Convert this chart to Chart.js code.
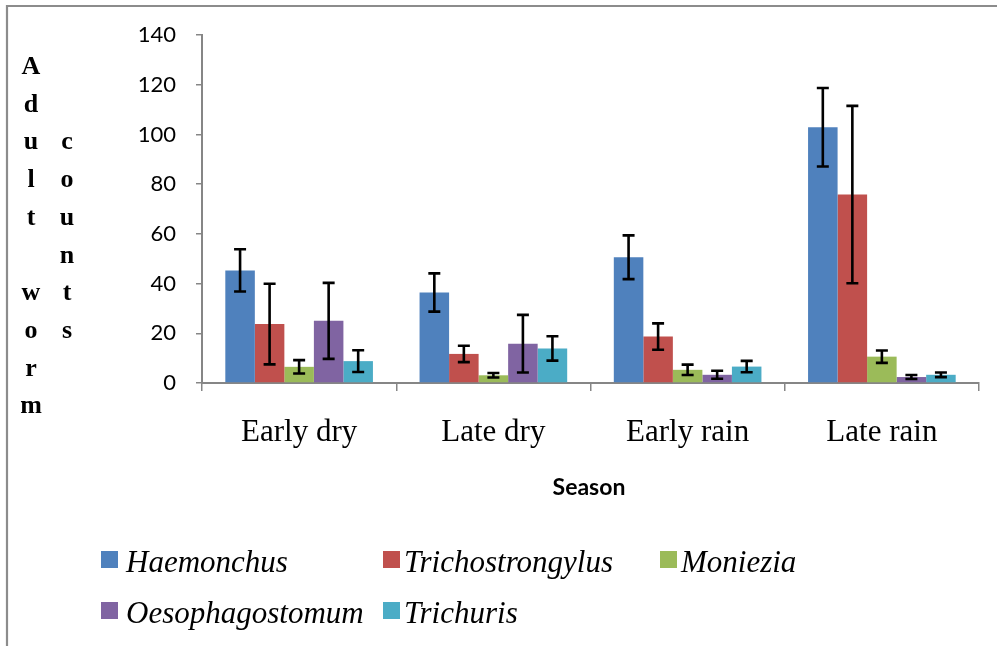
<!DOCTYPE html>
<html>
<head>
<meta charset="utf-8">
<script src="https://cdn.jsdelivr.net/npm/chart.js@4.4.0/dist/chart.umd.min.js"></script>
<style>
  html, body { margin: 0; padding: 0; background: #fff; }
  #wrap { position: relative; width: 997px; height: 646px; }
  canvas { display: block; }
</style>
</head>
<body>
<div id="wrap"><canvas id="c" width="997" height="646"></canvas></div>
<script>
// ---- Data ----
const seasons = ['Early dry', 'Late dry', 'Early rain', 'Late rain'];
const seriesNames = ['Haemonchus', 'Trichostrongylus', 'Moniezia', 'Oesophagostomum', 'Trichuris'];
const seriesColors = ['#4F81BD', '#C0504D', '#9BBB59', '#8064A2', '#4BACC6'];

const haemonchus       = [45.3, 36.4, 50.6, 102.9];
const trichostrongylus = [23.7, 11.7, 18.7, 75.8];
const moniezia         = [6.5, 3.1, 5.3, 10.6];
const oesophagostomum  = [25.0, 15.8, 3.3, 2.4];
const trichuris        = [8.8, 13.9, 6.6, 3.3];

// standard errors (half-length of error bars)
const haemonchusErr       = [8.5, 7.7, 8.8, 15.8];
const trichostrongylusErr = [16.2, 3.3, 5.3, 35.7];
const monieziaErr         = [2.7, 0.9, 2.1, 2.5];
const oesophagostomumErr  = [15.3, 11.6, 1.6, 0.8];
const trichurisErr        = [4.4, 4.9, 2.3, 0.95];

const yTicksMin = 0, yTicksMax = 140, yTicksStep = 20;
const yTitleCol1 = ['A','d','u','l','t','','w','o','r','m'];
const yTitleCol2 = ['','','c','o','u','n','t','s'];
const xTitle = 'Season';

const values = [haemonchus, trichostrongylus, moniezia, oesophagostomum, trichuris];
const errors = [haemonchusErr, trichostrongylusErr, monieziaErr, oesophagostomumErr, trichurisErr];

const AXIS_GRAY = '#868686';

const errorBarPlugin = {
  id: 'errorBars',
  afterDatasetsDraw(chart) {
    const ctx = chart.ctx;
    const y = chart.scales.y;
    ctx.save();
    ctx.strokeStyle = '#000';
    ctx.lineWidth = 2.6;
    ctx.lineCap = 'butt';
    chart.data.datasets.forEach((ds, i) => {
      const meta = chart.getDatasetMeta(i);
      meta.data.forEach((bar, j) => {
        const v = ds.data[j], e = ds.errors[j];
        const x = bar.x;
        const yt = y.getPixelForValue(v + e);
        const yb = y.getPixelForValue(v - e);
        const hw = 6;
        ctx.beginPath();
        ctx.moveTo(x, yt); ctx.lineTo(x, yb);
        ctx.moveTo(x - hw, yt); ctx.lineTo(x + hw, yt);
        ctx.moveTo(x - hw, yb); ctx.lineTo(x + hw, yb);
        ctx.stroke();
      });
    });
    ctx.restore();
  }
};

const decorPlugin = {
  id: 'decor',
  beforeDraw(chart) {
    const ctx = chart.ctx;
    ctx.save();
    ctx.fillStyle = '#fff';
    ctx.fillRect(0, 0, chart.width, chart.height);
    // outer frame (top and left visible)
    ctx.strokeStyle = '#8c8c8c';
    ctx.lineWidth = 2.2;
    ctx.beginPath();
    ctx.moveTo(7, chart.height); ctx.lineTo(7, 6); ctx.lineTo(chart.width, 6);
    ctx.stroke();
    ctx.restore();
  },
  afterDraw(chart) {
    const ctx = chart.ctx;
    ctx.save();
    ctx.fillStyle = '#000';
    ctx.textAlign = 'center';
    ctx.textBaseline = 'alphabetic';
    ctx.font = 'bold 26px "Liberation Serif", "Times New Roman", serif';
    const step = 37.7;
    yTitleCol1.forEach((ch, i) => { if (ch) ctx.fillText(ch, 31, 74 + i * step); });
    yTitleCol2.forEach((ch, i) => { if (ch) ctx.fillText(ch, 67, 74 + i * step); });
    // x title
    ctx.font = 'bold 23px Lato, "Open Sans", sans-serif';
    ctx.fillText(xTitle, 589, 495);
    // legend
    const legendPos = [[101, 551], [383, 551], [660, 551], [101, 602], [383, 602]];
    ctx.textAlign = 'left';
    ctx.font = 'italic 31px "Liberation Serif", "Times New Roman", serif';
    chart.data.datasets.forEach((ds, i) => {
      const [lx, ly] = legendPos[i];
      ctx.fillStyle = ds.backgroundColor;
      ctx.fillRect(lx, ly, 17, 17);
      ctx.fillStyle = '#000';
      ctx.fillText(ds.label, lx + (i % 3 === 0 ? 25 : 21), ly + 21);
    });
    ctx.restore();
  }
};

new Chart(document.getElementById('c'), {
  type: 'bar',
  data: {
    labels: seasons,
    datasets: seriesNames.map((name, i) => ({
      label: name,
      data: values[i],
      errors: errors[i],
      backgroundColor: seriesColors[i],
      borderWidth: 0,
      categoryPercentage: 0.76,
      barPercentage: 1.0
    }))
  },
  options: {
    responsive: false,
    animation: false,
    devicePixelRatio: 1,
    layout: { padding: { left: 0, top: 35, right: 18, bottom: 163 } },
    plugins: { legend: { display: false }, tooltip: { enabled: false }, title: { display: false } },
    scales: {
      x: {
        afterFit(scale) { scale.height = 100; },
        grid: { drawOnChartArea: false, drawTicks: true, tickLength: 8, color: AXIS_GRAY, lineWidth: 1.5 },
        border: { color: AXIS_GRAY, width: 2 },
        ticks: { color: '#000', padding: 23, font: { family: '"Liberation Serif", "Times New Roman", serif', size: 31 } }
      },
      y: {
        min: yTicksMin, max: yTicksMax,
        afterFit(scale) { scale.width = 202; },
        grid: { drawOnChartArea: false, drawTicks: true, tickLength: 6, color: AXIS_GRAY, lineWidth: 1.5 },
        border: { color: AXIS_GRAY, width: 2 },
        ticks: { stepSize: yTicksStep, color: '#000', padding: 20, font: { family: 'Lato, "Open Sans", sans-serif', size: 22 } }
      }
    }
  },
  plugins: [errorBarPlugin, decorPlugin]
});
</script>
</body>
</html>
